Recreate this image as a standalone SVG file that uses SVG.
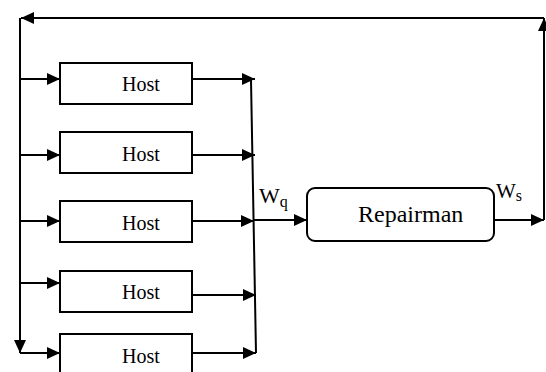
<svg xmlns="http://www.w3.org/2000/svg" width="546" height="372" viewBox="0 0 546 372">
<style>
.ln{stroke:#000;stroke-width:2;fill:none}
.bx{stroke:#000;stroke-width:2;fill:#fff}
.t{font-family:"Liberation Serif","Times New Roman",serif;fill:#000}
</style>
<defs>
<marker id="ah" viewBox="0 0 13 12" refX="13" refY="6" markerWidth="13" markerHeight="12" markerUnits="userSpaceOnUse" orient="auto">
<path d="M0,0 L13,6 L0,12 Z" fill="#000"/>
</marker>
</defs>
<g id="connectors">
<path class="ln" d="M544,220 L544,18" marker-end="url(#ah)"/>
<path class="ln" d="M544,18 L21,18" marker-end="url(#ah)"/>
<path class="ln" d="M20,18 L20,353" marker-end="url(#ah)"/>
<path class="ln" d="M20,79 L60,79" marker-end="url(#ah)"/>
<path class="ln" d="M20,155 L60,155" marker-end="url(#ah)"/>
<path class="ln" d="M20,221 L60,221" marker-end="url(#ah)"/>
<path class="ln" d="M20,283 L60,283" marker-end="url(#ah)"/>
<path class="ln" d="M20,353 L60,353" marker-end="url(#ah)"/>
<path class="ln" d="M192,79 L255,79" marker-end="url(#ah)"/>
<path class="ln" d="M192,155 L255,155" marker-end="url(#ah)"/>
<path class="ln" d="M192,221 L254,221" marker-end="url(#ah)"/>
<path class="ln" d="M192,295 L256,295" marker-end="url(#ah)"/>
<path class="ln" d="M192,353 L256,353" marker-end="url(#ah)"/>
<path class="ln" d="M251,80 L256,353"/>
<path class="ln" d="M253,220 L307,220" marker-end="url(#ah)"/>
<path class="ln" d="M494,220 L544,220" marker-end="url(#ah)"/>
</g>
<g id="host1"><rect class="bx" x="60" y="63" width="132" height="41"/><text class="t" x="122" y="91" font-size="20">Host</text></g>
<g id="host2"><rect class="bx" x="60" y="132" width="132" height="41"/><text class="t" x="122" y="161" font-size="20">Host</text></g>
<g id="host3"><rect class="bx" x="60" y="201" width="132" height="41"/><text class="t" x="122" y="230" font-size="20">Host</text></g>
<g id="host4"><rect class="bx" x="60" y="271" width="132" height="41"/><text class="t" x="122" y="299" font-size="20">Host</text></g>
<g id="host5"><rect class="bx" x="60" y="334" width="132" height="41"/><text class="t" x="122" y="363" font-size="20">Host</text></g>
<g id="repairman"><rect class="bx" x="307" y="188" width="187" height="53" rx="8"/><text class="t" x="358" y="222" font-size="24">Repairman</text></g>
<g id="labels">
<text class="t" x="259" y="203" font-size="22">W<tspan font-size="16" dy="4">q</tspan></text>
<text class="t" x="496" y="198" font-size="21">W<tspan font-size="16" dy="3">s</tspan></text>
</g>
</svg>
